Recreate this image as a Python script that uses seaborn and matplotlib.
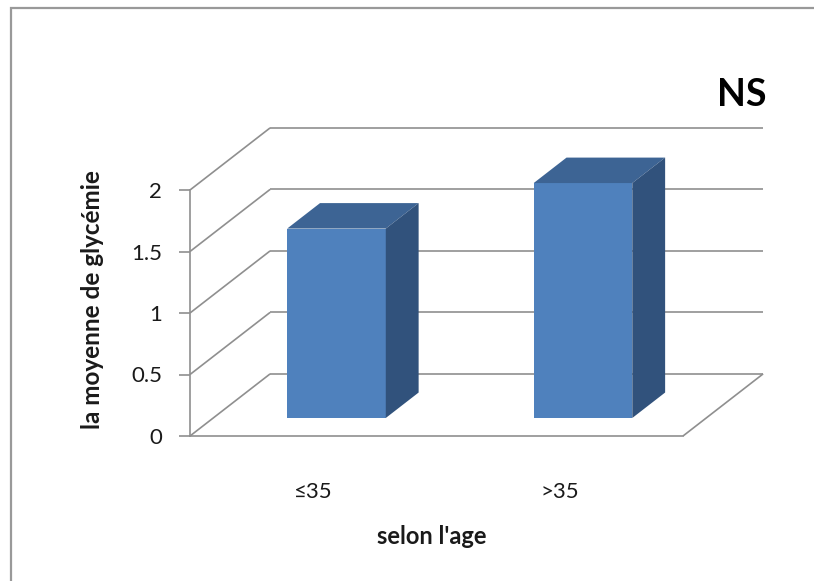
import matplotlib
matplotlib.use("Agg")
import matplotlib.pyplot as plt
from matplotlib.patches import Polygon, Rectangle
from matplotlib.transforms import Affine2D
import seaborn as sns
import pandas as pd

# Data
categories = ["≤35", ">35"]
glycemie = [1.54, 1.91]
y_ticks = [0, 0.5, 1, 1.5, 2]
y_tick_labels = ["0", "0.5", "1", "1.5", "2"]
x_label = "selon l'age"
y_label = "la moyenne de glycémie"
annotation = "NS"

sns.set_style("white")
plt.rcParams["font.family"] = ["Lato", "DejaVu Sans"]

FRONT = "#4F81BD"
TOP = "#3D6494"
SIDE = "#31527C"
GRID = "#8F8F8F"
TEXT = "#1A1A1A"

fig = plt.figure(figsize=(8.14, 5.81), dpi=100)
# the axes frame is the front plane of the 3-D box
ax = fig.add_axes([190 / 814, 145 / 581, 493 / 814, 246 / 581])

df = pd.DataFrame({"age": categories, "moyenne": glycemie})
sns.barplot(data=df, x="age", y="moyenne", color=FRONT, width=0.4,
            saturation=1, linewidth=0, ax=ax, zorder=3)
ax.set_xlim(-0.5, 1.5)
ax.set_ylim(0, 2)

# oblique projection: shift (in data units) for the full box depth
DEPTH_X, DEPTH_Y = 0.325, 0.505
BAR_D0, BAR_D1 = 0.29, 0.70

x_left, x_right = ax.get_xlim()
line_kw = dict(color=GRID, lw=1.2, clip_on=False, zorder=1,
               solid_capstyle="butt")

# back wall gridlines and side wall diagonals
for yv in y_ticks:
    ax.plot([x_left + DEPTH_X, x_right + DEPTH_X], [yv + DEPTH_Y] * 2, **line_kw)
    ax.plot([x_left, x_left + DEPTH_X], [yv, yv + DEPTH_Y], **line_kw)
# right edge of the floor
ax.plot([x_right, x_right + DEPTH_X], [0, DEPTH_Y], **line_kw)

# extrude the bars: front face pushed back, plus top and side faces
ox, oy = BAR_D0 * DEPTH_X, BAR_D0 * DEPTH_Y
bx, by = (BAR_D1 - BAR_D0) * DEPTH_X, (BAR_D1 - BAR_D0) * DEPTH_Y
for p in list(ax.patches):
    x0, w, h = p.get_x(), p.get_width(), p.get_height()
    p.set_transform(Affine2D().translate(ox, oy) + ax.transData)
    p.set_clip_on(False)
    top = [(x0 + ox, h + oy), (x0 + w + ox, h + oy),
           (x0 + w + ox + bx, h + oy + by), (x0 + ox + bx, h + oy + by)]
    side = [(x0 + w + ox, oy), (x0 + w + ox, h + oy),
            (x0 + w + ox + bx, h + oy + by), (x0 + w + ox + bx, oy + by)]
    ax.add_patch(Polygon(top, closed=True, facecolor=TOP, edgecolor="none",
                         clip_on=False, zorder=3))
    ax.add_patch(Polygon(side, closed=True, facecolor=SIDE, edgecolor="none",
                         clip_on=False, zorder=3))

# axes styling
for s in ("top", "right"):
    ax.spines[s].set_visible(False)
for s in ("left", "bottom"):
    ax.spines[s].set_color(GRID)
    ax.spines[s].set_linewidth(1.2)
ax.set_yticks(y_ticks, y_tick_labels)
ax.tick_params(axis="y", length=8, width=1.2, color=GRID, pad=12,
               labelsize=16, labelcolor=TEXT, left=True)
ax.tick_params(axis="x", length=0, pad=33, labelsize=16, labelcolor=TEXT)

ax.set_xlabel(x_label, fontsize=17, fontweight="bold", color=TEXT)
ax.xaxis.set_label_coords(0.49, -0.36)
ax.set_ylabel(y_label, fontsize=17.5, fontweight="bold", color=TEXT)
ax.yaxis.set_label_coords(-0.175, 0.553)

fig.text(767 / 814, 1 - 95 / 581, annotation, ha="right", va="center",
         fontsize=27, fontweight="bold", color="black")

# chart border (runs off the right and bottom edges)
fig.patches.append(Rectangle((11 / 814, -0.5), 2.0, 1.5 - 8 / 581,
                             transform=fig.transFigure, fill=False,
                             edgecolor="#999999", lw=1.6, zorder=0))

fig.savefig("out.png", dpi=100, facecolor="white")
